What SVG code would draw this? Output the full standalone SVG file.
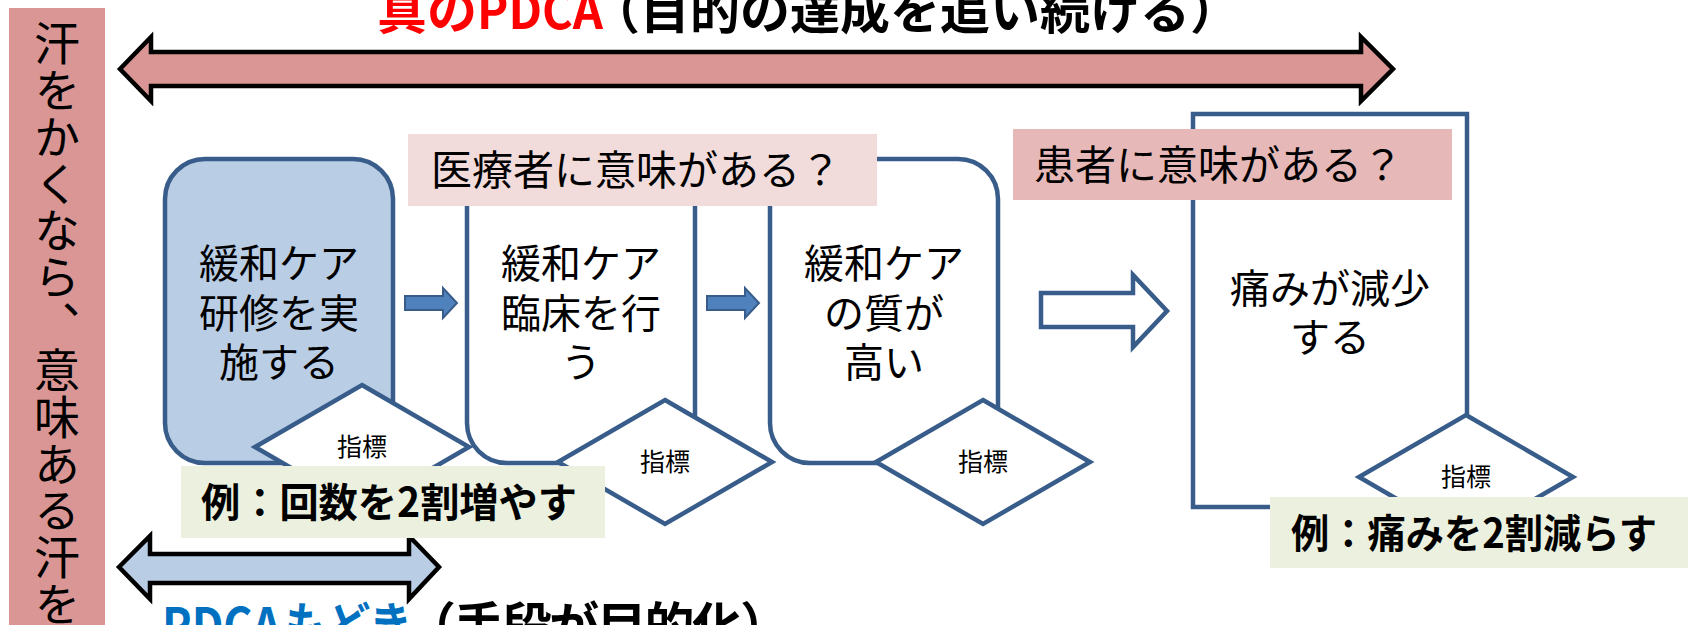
<svg xmlns="http://www.w3.org/2000/svg" width="1688" height="625" viewBox="0 0 1688 625">
<defs>
<style>
.jp{font-family:"Noto Sans CJK JP","Noto Sans",sans-serif;}
.title{font-size:50px;font-weight:bold;}
.node{stroke:#385D8A;stroke-width:4.5;}
.nt{font-size:40px;fill:#000;text-anchor:middle;}
.dia{fill:#fff;stroke:#385D8A;stroke-width:4.5;stroke-linejoin:miter;}
.dt{font-size:25px;fill:#000;text-anchor:middle;}
.lbl{font-size:41px;fill:#000;}
.ex{fill:#EBF1DE;}
.ext{font-size:40px;font-weight:bold;fill:#000;}
.dbl{stroke:#000;stroke-width:4.5;stroke-linejoin:miter;}
.small{fill:#4F81BD;stroke:#385D8A;stroke-width:2;}
</style>
</defs>
<rect width="1688" height="625" fill="#fff"/>
<g id="side-bar">
<rect x="9" y="8" width="96" height="630" fill="#D99694"/>
<text class="jp" x="57" y="20" font-size="46" letter-spacing="0.7" style="writing-mode:vertical-rl" fill="#000">汗をかくなら、意味ある汗を</text>
</g>
<g id="title-top" class="jp title">
<text x="377" y="29" fill="#FF0000">真の</text>
<text x="477" y="29" fill="#FF0000" textLength="126" lengthAdjust="spacingAndGlyphs">PDCA</text>
<text x="590" y="29" fill="#000">（目的の達成を追い続ける）</text>
</g>
<g id="title-bottom" class="jp title">
<text x="162" y="644" fill="#0070C0" textLength="119" lengthAdjust="spacingAndGlyphs">PDCA</text>
<text x="285" y="644" fill="#0070C0" textLength="127" lengthAdjust="spacingAndGlyphs">もどき</text>
<text x="406" y="644" fill="#000" textLength="384" lengthAdjust="spacing">（手段が目的化）</text>
</g>
<g id="arrow-true-pdca">
<polygon class="dbl" fill="#D99694" points="120,69 151,37 151,52 1361,52 1361,37 1393,69 1361,101 1361,86 151,86 151,101"/>
</g>
<g id="arrow-fake-pdca">
<polygon class="dbl" fill="#B9CDE5" points="119,567 150,536 150,554 409,554 409,536 439,567 409,599 409,583 150,583 150,599"/>
</g>
<g id="node1">
<rect class="node" x="165" y="159" width="228" height="304" rx="40" fill="#B9CDE5"/>
<text class="jp nt" x="279" y="278">緩和ケア</text>
<text class="jp nt" x="279" y="328">研修を実</text>
<text class="jp nt" x="279" y="377">施する</text>
</g>
<g id="node2">
<rect class="node" x="467" y="159" width="228" height="304" rx="40" fill="#fff"/>
<text class="jp nt" x="581" y="278">緩和ケア</text>
<text class="jp nt" x="581" y="328">臨床を行</text>
<text class="jp nt" x="581" y="377">う</text>
</g>
<g id="node3">
<rect class="node" x="770" y="159" width="228" height="304" rx="40" fill="#fff"/>
<text class="jp nt" x="884" y="278">緩和ケア</text>
<text class="jp nt" x="884" y="328">の質が</text>
<text class="jp nt" x="884" y="377">高い</text>
</g>
<g id="node4">
<rect class="node" x="1193" y="114" width="274" height="393" fill="#fff"/>
<text class="jp nt" x="1330" y="303">痛みが減少</text>
<text class="jp nt" x="1330" y="352">する</text>
</g>
<g id="indicator1">
<polygon class="dia" points="362,385 469,447 362,509 255,447"/>
<text class="jp dt" x="362" y="456">指標</text>
</g>
<g id="indicator2">
<polygon class="dia" points="665,400 772,462 665,524 558,462"/>
<text class="jp dt" x="665" y="471">指標</text>
</g>
<g id="indicator3">
<polygon class="dia" points="983,400 1090,462 983,524 876,462"/>
<text class="jp dt" x="983" y="471">指標</text>
</g>
<g id="indicator4">
<polygon class="dia" points="1466,415 1573,477 1466,539 1359,477"/>
<text class="jp dt" x="1466" y="486">指標</text>
</g>
<g id="connectors">
<polygon class="small" points="405,296 443,296 443,288 457,303 443,318 443,310 405,310"/>
<polygon class="small" points="707,296 745,296 745,288 759,303 745,318 745,310 707,310"/>
<polygon class="node" fill="#fff" points="1041,293 1133,293 1133,275 1167,311 1133,347 1133,327 1041,327"/>
</g>
<g id="label-staff">
<rect x="408" y="134" width="469" height="72" fill="#F2DCDB"/>
<text class="jp lbl" x="431" y="185">医療者に意味がある？</text>
</g>
<g id="label-patient">
<rect x="1013" y="129" width="439" height="71" fill="#E6B9B8"/>
<text class="jp lbl" x="1034" y="180">患者に意味がある？</text>
</g>
<g id="example1">
<rect class="ex" x="181" y="466" width="424" height="72"/>
<text class="jp ext" x="201" y="517" textLength="376" lengthAdjust="spacingAndGlyphs">例：回数を2割増やす</text>
</g>
<g id="example2">
<rect class="ex" x="1270" y="497" width="418" height="71"/>
<text class="jp ext" x="1291" y="548" textLength="366" lengthAdjust="spacingAndGlyphs">例：痛みを2割減らす</text>
</g>
</svg>
